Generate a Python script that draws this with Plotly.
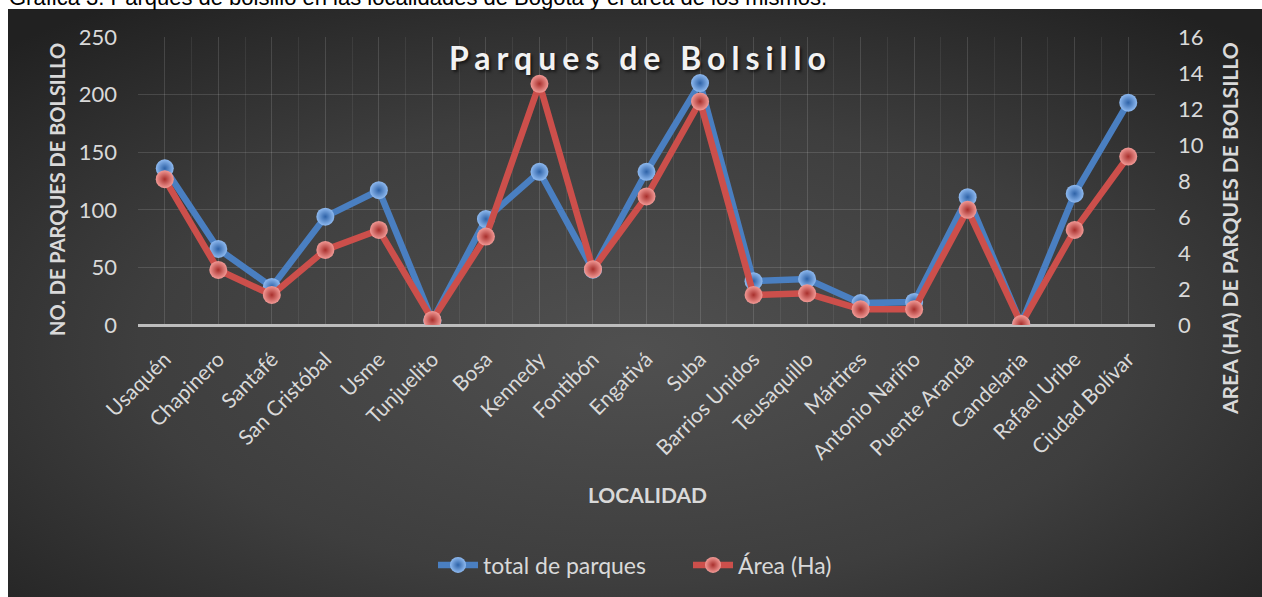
import base64
import plotly.graph_objects as go

# ---- data ----
localidades = ["Usaquén", "Chapinero", "Santafé", "San Cristóbal", "Usme", "Tunjuelito",
               "Bosa", "Kennedy", "Fontibón", "Engativá", "Suba", "Barrios Unidos",
               "Teusaquillo", "Mártires", "Antonio Nariño", "Puente Aranda", "Candelaria",
               "Rafael Uribe", "Ciudad Bolívar"]
total_parques = [136, 66, 33, 94, 117, 4, 92, 133, 48, 133, 210, 38, 40, 19, 20, 111, 1, 114, 193]
area_ha = [8.1, 3.06, 1.67, 4.17, 5.28, 0.28, 4.91, 13.4, 3.1, 7.14, 12.42, 1.67, 1.76,
           0.87, 0.87, 6.4, 0.05, 5.28, 9.36]
y1_ticks = [0, 50, 100, 150, 200, 250]
y2_ticks = [0, 2, 4, 6, 8, 10, 12, 14, 16]

W, H = 1262, 597
ML, MR, MT, MB = 138, 107, 37, 272
PW, PH = W - ML - MR, H - MT - MB

def px_x(p):
    return (p - ML) / PW

def px_y(p):
    return 1 - (p - MT) / PH

FONT = "Lato"
TXT = "#d9d9d9"

idx = list(range(len(localidades)))

fig = go.Figure()
fig.add_trace(go.Scatter(
    x=idx, y=total_parques, name="total de parques", mode="lines+markers",
    line=dict(color="#4a7fc1", width=6.5),
    marker=dict(size=18, color="#8fbaf0", line=dict(width=0),
                gradient=dict(type="radial", color="#2f63a8")),
    yaxis="y",
))
fig.add_trace(go.Scatter(
    x=idx, y=area_ha, name="Área (Ha)", mode="lines+markers",
    line=dict(color="#cc4f4b", width=6.5),
    marker=dict(size=18, color="#f29a96", line=dict(width=0),
                gradient=dict(type="radial", color="#a8302d")),
    yaxis="y2",
))

svg = ('<svg xmlns="http://www.w3.org/2000/svg" width="1254" height="588" '
       'preserveAspectRatio="none">'
       '<defs><radialGradient id="g" cx="0.5" cy="0.58" r="0.72">'
       '<stop offset="0" stop-color="#505050"/>'
       '<stop offset="0.55" stop-color="#3e3e3e"/>'
       '<stop offset="1" stop-color="#212121"/>'
       '</radialGradient></defs>'
       '<rect width="1254" height="588" fill="url(#g)"/></svg>')
src = "data:image/svg+xml;base64," + base64.b64encode(svg.encode()).decode()

fig.update_layout(
    width=W, height=H,
    margin=dict(l=ML, r=MR, t=MT, b=MB, autoexpand=False),
    paper_bgcolor="white",
    plot_bgcolor="rgba(0,0,0,0)",
    font=dict(family=FONT, color=TXT),
    showlegend=True,
    legend=dict(orientation="h", x=px_x(433), xanchor="left", y=px_y(565), yanchor="middle",
                font=dict(family=FONT, size=23, color=TXT), bgcolor="rgba(0,0,0,0)",
                itemwidth=40, tracegroupgap=0, entrywidth=200, entrywidthmode="pixels"),
    images=[dict(source=src, xref="paper", yref="paper", x=px_x(8), y=px_y(9),
                 sizex=(W - 8) / PW, sizey=(H - 9) / PH, xanchor="left", yanchor="top",
                 sizing="stretch", layer="below")],
    xaxis=dict(
        range=[-0.5, len(localidades) - 0.5],
        tickmode="array", tickvals=idx, ticktext=localidades,
        tickangle=-45, tickfont=dict(family=FONT, size=21, color=TXT),
        ticks="", ticklabelstandoff=17,
        showgrid=True, gridcolor="rgba(255,255,255,0.07)", gridwidth=1,
        minor=dict(dtick=0.5, tick0=-0.5, showgrid=True, gridcolor="rgba(255,255,255,0.07)"),
        zeroline=False, showline=False, fixedrange=True,
    ),
    yaxis=dict(
        range=[0, 250], tickmode="array", tickvals=y1_ticks,
        tickfont=dict(family=FONT, size=22, color=TXT), ticklabelstandoff=20,
        showgrid=True, gridcolor="rgba(255,255,255,0.13)", gridwidth=1,
        zeroline=True, zerolinecolor="#bdbdbd", zerolinewidth=2.5,
        showline=False, ticks="",
    ),
    yaxis2=dict(
        range=[0, 16], tickmode="array", tickvals=y2_ticks,
        overlaying="y", side="right",
        tickfont=dict(family=FONT, size=22, color=TXT), ticklabelstandoff=22,
        showgrid=False, zeroline=False, showline=False, ticks="",
    ),
    annotations=[
        dict(text="Gráfica 3. Parques de bolsillo en las localidades de Bogotá y el área de los mismos.",
             xref="paper", yref="paper", x=px_x(7), y=px_y(12), xanchor="left", yanchor="bottom",
             showarrow=False, font=dict(family="Liberation Sans", size=22, color="black")),
        dict(text="<b>Parques de Bolsillo</b>", xref="paper", yref="paper",
             x=px_x(640), y=px_y(58), xanchor="center", yanchor="middle", showarrow=False,
             font=dict(family=FONT, size=32, color="#f2f2f2", shadow="2px 2px 3px rgba(0,0,0,0.6)")),
        dict(text="<b>NO. DE PARQUES DE BOLSILLO</b>", xref="paper", yref="paper",
             x=px_x(57), y=px_y(190), xanchor="center", yanchor="middle", textangle=-90,
             showarrow=False, font=dict(family=FONT, size=20, color=TXT)),
        dict(text="<b>AREA (HA) DE PARQUES DE BOLSILLO</b>", xref="paper", yref="paper",
             x=px_x(1229), y=px_y(229), xanchor="center", yanchor="middle", textangle=-90,
             showarrow=False, font=dict(family=FONT, size=21, color=TXT)),
        dict(text="<b>LOCALIDAD</b>", xref="paper", yref="paper",
             x=px_x(647), y=px_y(494), xanchor="center", yanchor="middle",
             showarrow=False, font=dict(family=FONT, size=21, color=TXT)),
    ],
)

post = """
document.documentElement.style.margin = '0';
document.documentElement.style.overflow = 'hidden';
document.body.style.margin = '0';
document.body.style.overflow = 'hidden';
document.querySelectorAll('.annotation-text').forEach(function (t) {
  if (t.textContent === 'Parques de Bolsillo') { t.style.letterSpacing = '6px'; }
});
"""

fig.write_html("out.html", post_script=post, config={"displayModeBar": False})
